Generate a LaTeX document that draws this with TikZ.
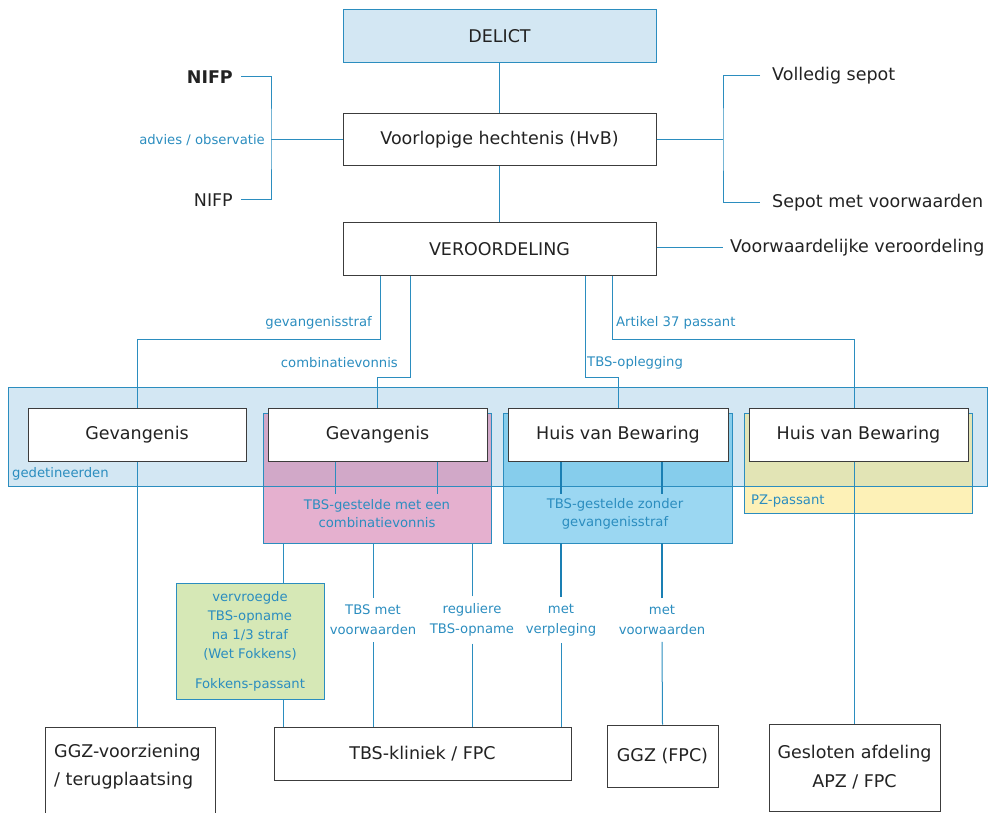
\documentclass[tikz,border=0pt]{standalone}
\usepackage{fontspec}
\setmainfont{DejaVu Sans}
\usetikzlibrary{positioning}
\definecolor{licht}{RGB}{211,231,243}
\definecolor{roze}{RGB}{229,176,207}
\definecolor{rozeover}{RGB}{209,168,200}
\definecolor{hemel}{RGB}{155,215,242}
\definecolor{hemelover}{RGB}{134,205,236}
\definecolor{geel}{RGB}{253,241,183}
\definecolor{geelover}{RGB}{226,228,181}
\definecolor{groen}{RGB}{214,232,182}
\definecolor{lijnblauw}{RGB}{43,141,191}
\definecolor{donkerblauw}{RGB}{26,127,179}
\definecolor{tekst}{RGB}{34,34,34}
\definecolor{rand}{RGB}{60,60,60}

\begin{document}
\begin{tikzpicture}[x=1pt,y=-1pt,
    box/.style={draw=rand,line width=1pt,fill=white,inner sep=0pt,text=tekst,
                font=\fontsize{17.5}{20}\selectfont,align=center},
    gebied/.style={inner sep=0pt,outer sep=0pt},
    lbl/.style={inner sep=0pt,text=lijnblauw,font=\fontsize{13.2}{20}\selectfont,align=center},
    tussen/.style={lbl,inner ysep=7pt},
    txt/.style={inner sep=0pt,text=tekst,font=\fontsize{17.5}{20}\selectfont},
    lijn/.style={draw=lijnblauw,line width=1pt},
    dik/.style={draw=donkerblauw,line width=2.2pt}]
\useasboundingbox (0,0) rectangle (996,813);

% gekleurde vlakken
\node[gebied,fill=licht,minimum width=979pt,minimum height=99pt]  (geded)    at (497.5,436.5) {};
\node[gebied,fill=roze,minimum width=228pt,minimum height=130pt]  (tbsroze)  at (377,478) {};
\node[gebied,fill=hemel,minimum width=229pt,minimum height=130pt] (tbshemel) at (617.5,478) {};
\node[gebied,fill=geel,minimum width=228pt,minimum height=100pt]  (pz)       at (858,463) {};
\fill[rozeover]  (tbsroze.north west)  rectangle (tbsroze.east |- geded.south);
\fill[hemelover] (tbshemel.north west) rectangle (tbshemel.east |- geded.south);
\fill[geelover]  (pz.north west)       rectangle (pz.east |- geded.south);
\foreach \g in {geded,tbsroze,tbshemel,pz}
    \draw[lijn] (\g.north west) rectangle (\g.south east);

\node[lbl,anchor=west] (lgeded) at (12,474) {gedetineerden};
\node[lbl,anchor=west] (lpz)    at (751,501) {PZ-passant};
\node[lbl,font=\fontsize{13.2}{18}\selectfont] (lroze)  at (377,514) {TBS-gestelde met een\\combinatievonnis};
\node[lbl,font=\fontsize{13.2}{18}\selectfont] (lhemel) at (615,514) {TBS-gestelde zonder\\gevangenisstraf};

% hoofdlijn
\node[box,draw=lijnblauw,fill=licht,minimum width=313pt,minimum height=53pt] (delict) at (499.5,36.5) {DELICT};
\node[box,minimum width=313pt,minimum height=52pt] (voorl)   at (499.5,140) {Voorlopige hechtenis (HvB)};
\node[box,minimum width=313pt,minimum height=52pt] (veroord) at (499.5,249) {VEROORDELING};

\node[box,minimum width=218pt,minimum height=53pt] (gev1) at (137,434.5)   {Gevangenis};
\node[box,minimum width=219pt,minimum height=53pt] (gev2) at (377.5,434.5) {Gevangenis};
\node[box,minimum width=220pt,minimum height=53pt] (hvb1) at (618,434.5)   {Huis van Bewaring};
\node[box,minimum width=219pt,minimum height=53pt] (hvb2) at (858.5,434.5) {Huis van Bewaring};

\node[box,anchor=north,minimum width=170pt,minimum height=90pt] (ggzv) at (130,727) {};
\node[txt,anchor=north west,align=left,font=\fontsize{17.5}{28}\selectfont] (lggzv) at (54,744)
      {GGZ-voorziening\\/ terugplaatsing};
\node[box,minimum width=297pt,minimum height=53pt] (tbskl)  at (422.5,753.5) {TBS-kliniek / FPC};
\node[box,minimum width=111pt,minimum height=62pt] (ggzfpc) at (662.5,756)   {GGZ (FPC)};
\node[box,minimum width=171pt,minimum height=87pt,font=\fontsize{17.5}{29}\selectfont]
      (gesl) at (854.5,767.5) {Gesloten afdeling\\APZ / FPC};

\node[lbl,draw=lijnblauw,line width=1pt,fill=groen,minimum width=148pt,minimum height=116pt,
      font=\fontsize{13.2}{19}\selectfont] (fokkens) at (250,641)
      {vervroegde\\TBS-opname\\na 1/3 straf\\(Wet Fokkens)\\[11pt]Fokkens-passant};

% NIFP links
\node[txt,anchor=east] (nifp1) at (233,77)  {\textbf{NIFP}};
\node[txt,anchor=east] (nifp2) at (233,200) {NIFP};
\coordinate (bl) at (271,140);
\draw[lijn] ([xshift=8pt]nifp1.east) -| (bl) |- ([xshift=8pt]nifp2.east);
\draw[lijn] (bl) -- (voorl.west);
\node[lbl,left=6pt of bl] (advies) {advies / observatie};

% sepot rechts
\node[txt,anchor=west] (vsepot) at (772,76)  {Volledig sepot};
\node[txt,anchor=west] (sepotv) at (772,203) {Sepot met voorwaarden};
\node[txt,anchor=west] (vwv)    at (730,248) {Voorwaardelijke veroordeling};
\coordinate (br) at (723,140);
\draw[lijn] (voorl.east) -- (br);
\draw[lijn] ([xshift=-12pt]vsepot.west) -| (br) |- ([xshift=-12pt]sepotv.west);
\draw[lijn] (veroord.east |- vwv.west) -- ([xshift=-7pt]vwv.west);

\draw[lijn] (delict) -- (voorl);
\draw[lijn] (voorl) -- (veroord);

% uitspraken
\coordinate (k1) at (380,339);
\coordinate (k2) at (410,377);
\coordinate (k3) at (585,377);
\coordinate (k4) at (612,339);
\draw[lijn] (veroord.south -| k1) -- (k1) -| (gev1.north);
\draw[lijn] (veroord.south -| k2) -- (k2) -| (gev2.north);
\draw[lijn] (veroord.south -| k3) -- (k3) -| (hvb1.north);
\draw[lijn] (veroord.south -| k4) -- (k4) -| (gesl.north |- hvb2.north);
\node[lbl,anchor=east] (lgevs) at (372,323) {gevangenisstraf};
\node[lbl,anchor=east] (lcomb) at (398,363) {combinatievonnis};
\node[lbl,anchor=west] (lopl)  at (587,363) {TBS-oplegging};
\node[lbl,anchor=west] (lart)  at (616,323) {Artikel 37 passant};

% korte stompjes
\draw[lijn] ([xshift=-42.5pt]gev2.south) -- ++(0,32);
\draw[lijn] ([xshift=59.5pt]gev2.south) -- ++(0,32);
\draw[dik]  ([xshift=-57pt]hvb1.south) -- ++(0,32);
\draw[dik]  ([xshift=44pt]hvb1.south) -- ++(0,32);

% naar de klinieken
\node[tussen] (tbsmv)  at (373,620) {TBS met\\voorwaarden};
\node[tussen] (regul)  at (472,620) {reguliere\\TBS-opname};
\node[tussen] (verpl)  at (561,620) {met\\verpleging};
\node[tussen] (metvw)  at (662,620) {met\\voorwaarden};

\draw[lijn] (gev1.south) -- (gev1.south |- ggzv.north);
\draw[lijn] (hvb2.south -| gesl.north) -- (gesl.north);
\draw[lijn] ([xshift=33pt]fokkens.north) -- ([xshift=33pt]fokkens.north |- tbsroze.south);
\draw[lijn] ([xshift=33pt]fokkens.south) -- ([xshift=33pt]fokkens.south |- tbskl.north);
\foreach \l in {tbsmv,regul} {
    \draw[lijn] (\l.north) -- (\l.north |- tbsroze.south);
    \draw[lijn] (\l.south) -- (\l.south |- tbskl.north);
}
\draw[dik]  (verpl.north) -- (verpl.north |- tbshemel.south);
\draw[lijn] (verpl.south) -- (verpl.south |- tbskl.north);
\draw[dik]  (metvw.north) -- (metvw.north |- tbshemel.south);
\draw[lijn] (metvw.south) -- (ggzfpc.north);
\end{tikzpicture}
\end{document}
